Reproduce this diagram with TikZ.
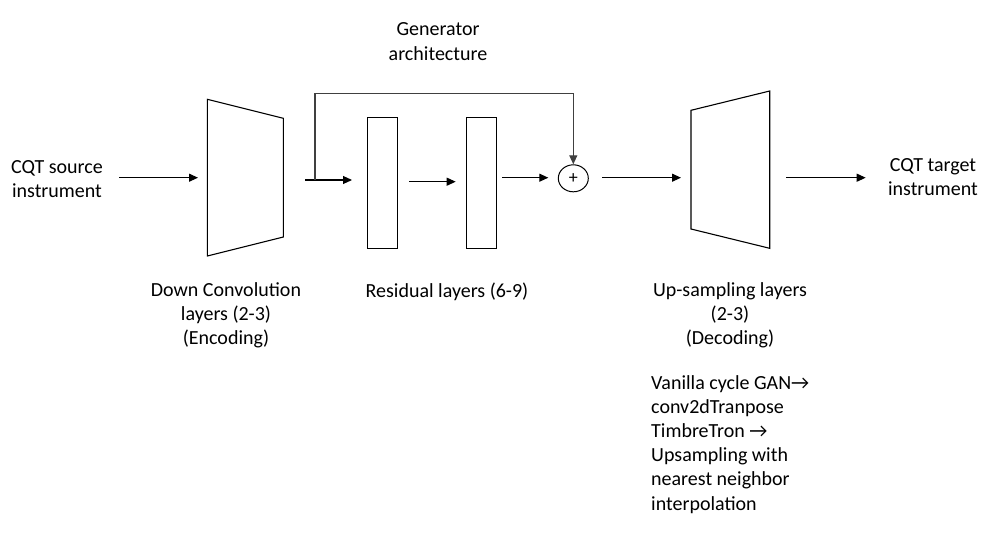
\documentclass[tikz,border=0pt]{standalone}
\usepackage{fontspec}
\setmainfont{Carlito}
\usetikzlibrary{arrows.meta,shapes.geometric}
\begin{document}
\begin{tikzpicture}[x=1pt,y=-1pt,
  lbl/.style={font=\fontsize{20}{24.2}\selectfont, align=center, inner sep=0pt},
  arr/.style={line width=1.1pt, -{Triangle[length=9pt,width=8pt]}},
  blk/.style={draw, line width=1.1pt, fill=white},
  skipline/.style={draw=black!75, line width=1.3pt}]
\useasboundingbox (0,0) rectangle (1006,538);
% encoder trapezoid
\coordinate (e1) at (207.3,99.3);
\coordinate (e2) at (283.3,118.3);
\coordinate (e3) at (283.3,237);
\coordinate (e4) at (207.3,256);
\draw[blk] (e1) -- (e2) -- (e3) -- (e4) -- cycle;
% decoder trapezoid
\coordinate (d1) at (691,110.3);
\coordinate (d2) at (769.7,91);
\coordinate (d3) at (769.7,248.3);
\coordinate (d4) at (691,229);
\draw[blk] (d1) -- (d2) -- (d3) -- (d4) -- cycle;
% residual blocks
\node[blk, minimum width=30.4pt, minimum height=131pt, inner sep=0pt] (r1) at (382.5,182.8) {};
\node[blk, minimum width=30.4pt, minimum height=131pt, inner sep=0pt] (r2) at (481.5,182.8) {};
% adder
\node[draw, ellipse, line width=1pt, minimum width=30pt, minimum height=27pt, inner sep=0pt, font=\fontsize{18}{18}\selectfont] (add) at (573.3,178.3) {+};
% labels
\node[lbl] (title) at (438,41.5) {Generator\\architecture};
\node[lbl] (src) at (57,179) {CQT source\\instrument};
\node[lbl] (tgt) at (933,177) {CQT target\\instrument};
\node[lbl] (enc) at (226,315.5) {Down Convolution\\layers (2-3)\\(Encoding)};
\node[lbl] (res) at (447,291.5) {Residual layers (6-9)};
\node[lbl] (dec) at (730,315.5) {Up-sampling layers\\(2-3)\\(Decoding)};
\node[lbl, align=left, anchor=north west] (note) at (651,375) {Vanilla cycle GAN\textrightarrow\\conv2dTranpose\\TimbreTron \textrightarrow\\Upsampling with\\nearest neighbor\\interpolation};
% connectors
\coordinate (a0s) at (119.3,177.7);
\coordinate (a0e) at (198,177.7);
\draw[arr] (a0s) -- (a0e);
\coordinate (a1s) at (305,180);
\coordinate (a1e) at (352,180);
\draw[arr] (a1s) -- (a1e);
\coordinate (a2s) at (409.3,181.7);
\coordinate (a2e) at (455.7,181.7);
\draw[arr] (a2s) -- (a2e);
\coordinate (a3s) at (502.3,177.7);
\coordinate (a3e) at (548.3,177.7);
\draw[arr] (a3s) -- (a3e);
\coordinate (a4s) at (602.3,177.7);
\coordinate (a4e) at (681,177.7);
\draw[arr] (a4s) -- (a4e);
\coordinate (a5s) at (786,177.7);
\coordinate (a5e) at (865.7,177.7);
\draw[arr] (a5s) -- (a5e);
% skip connection
\coordinate (k0) at (315,180);
\coordinate (k1) at (315,93.3);
\coordinate (k2) at (573.3,93.3);
\draw[skipline] (k0) -- (k1) -- (k2);
\draw[skipline, -{Triangle[length=9pt,width=8pt]}] (k2) -- (add.north);
\end{tikzpicture}
\end{document}
